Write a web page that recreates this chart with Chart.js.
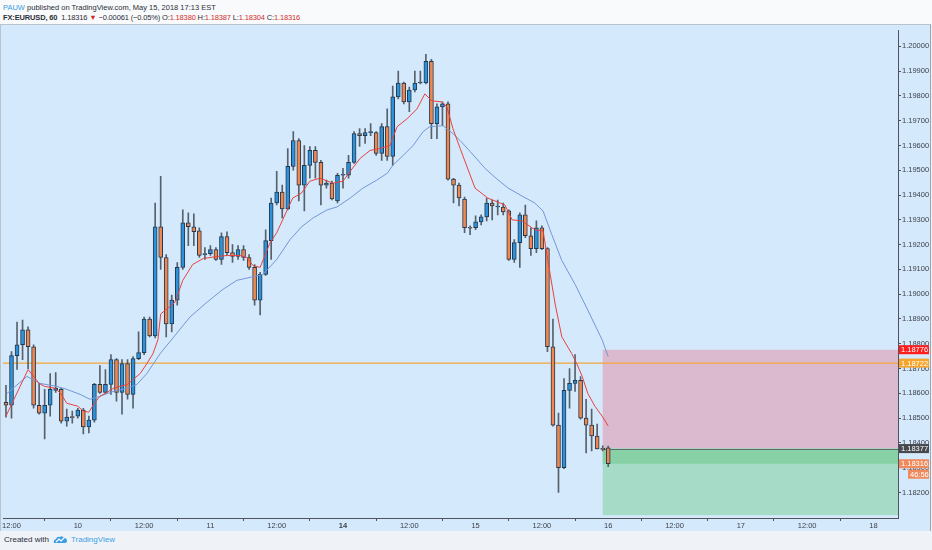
<!DOCTYPE html>
<html><head><meta charset="utf-8">
<script src="https://cdn.jsdelivr.net/npm/chart.js@4.4.0/dist/chart.umd.min.js"></script>
<style>
html,body{margin:0;padding:0;width:932px;height:550px;background:#eff3f7;overflow:hidden;font-family:"Liberation Sans",Arial,sans-serif;}
#hdr{position:absolute;left:0;top:0;width:932px;height:24px;background:#f9fafb;}
.ln{position:absolute;left:3px;white-space:nowrap;font-size:7.5px;color:#2a2e39;}
#l1{top:2.5px}
#l2{top:13px;letter-spacing:-0.15px}
.red{color:#d12d2d}
#panel{position:absolute;left:0;top:24px;width:931px;height:507px;background:#d5e9fc;border-top:1px solid #b9c3cd;border-right:1px solid #9aa4ae;border-left:1px solid #b9c3cd;box-sizing:border-box;}
#cv{position:absolute;left:-1px;top:0;}
#foot{position:absolute;left:4px;top:535px;font-size:8px;color:#2a2e39;white-space:nowrap;}
#foot svg{vertical-align:middle;margin:0 3px 0 4px}
#foot .tv{color:#3a9ee5}
</style></head>
<body>
<div id="hdr">
<div class="ln" id="l1"><span style="color:#3a9ee5">PAUW</span> published on TradingView.com, May 15, 2018 17:13 EST</div>
<div class="ln" id="l2"><span style="font-weight:bold">FX:EURUSD, 60</span>&nbsp; 1.18316 <span class="red">▼</span> −0.00061 (−0.05%) O:<span class="red">1.18380</span> H:<span class="red">1.18387</span> L:<span class="red">1.18304</span> C:<span class="red">1.18316</span></div>
</div>
<div id="panel"><canvas id="cv" width="932" height="506"></canvas></div>
<div id="foot">Created with<svg width="15" height="10" viewBox="0 0 15 10"><path d="M1 8 Q0 5 3 4 Q4 1 7 2 Q9 0 11 3 Q14 3 14 6 Q14 8 12 8 Z" fill="#3a9ee5"/><path d="M3 7 L6 4 L8 6 L11 3" stroke="#fff" stroke-width="1.2" fill="none"/></svg><span class="tv">TradingView</span></div>
<script>
// ---- candle data (hourly, index 0 = 9 May 11:00) ----
const opens = [1.18564,1.18552,1.18752,1.18796,1.18856,1.18788,1.18552,1.18520,1.18552,1.18612,
1.18616,1.18488,1.18504,1.18508,1.18532,1.18464,1.18492,1.18636,1.18604,1.18636,
1.18736,1.18604,1.18720,1.18596,1.18740,1.18764,1.18900,1.18832,1.19272,1.19148,
1.18880,1.18976,1.19108,1.19288,1.19272,1.19256,1.19160,1.19164,1.19180,1.19140,
1.19232,1.19168,1.19152,1.19180,1.19148,1.19108,1.18976,1.19080,1.19216,1.19368,
1.19412,1.19344,1.19516,1.19620,1.19440,1.19520,1.19580,1.19532,1.19440,1.19448,
1.19376,1.19480,1.19480,1.19532,1.19648,1.19640,1.19652,1.19652,1.19568,1.19676,
1.19556,1.19796,1.19852,1.19776,1.19824,1.19852,1.19852,1.19940,1.19688,1.19756,
1.19768,1.19464,1.19440,1.19384,1.19268,1.19268,1.19292,1.19312,1.19368,1.19352,
1.19352,1.19336,1.19140,1.19208,1.19320,1.19236,1.19184,1.19268,1.19184,1.18788,
1.18472,1.18300,1.18612,1.18640,1.18652,1.18500,1.18472,1.18428,1.18376,1.18380];
const highs = [1.18632,1.18768,1.18888,1.18896,1.18868,1.18796,1.18640,1.18616,1.18680,1.18684,
1.18620,1.18536,1.18528,1.18540,1.18540,1.18508,1.18640,1.18712,1.18696,1.18756,
1.18740,1.18736,1.18736,1.18748,1.18848,1.18908,1.18908,1.19368,1.19476,1.19160,
1.18996,1.19128,1.19340,1.19328,1.19324,1.19268,1.19188,1.19196,1.19188,1.19248,
1.19252,1.19200,1.19196,1.19196,1.19160,1.19120,1.19088,1.19260,1.19388,1.19496,
1.19440,1.19588,1.19656,1.19628,1.19600,1.19596,1.19596,1.19540,1.19460,1.19456,
1.19488,1.19508,1.19560,1.19656,1.19668,1.19668,1.19688,1.19656,1.19688,1.19748,
1.19840,1.19900,1.19856,1.19836,1.19900,1.19900,1.19968,1.19948,1.19768,1.19776,
1.19776,1.19468,1.19448,1.19392,1.19276,1.19316,1.19320,1.19388,1.19380,1.19380,
1.19368,1.19340,1.19220,1.19328,1.19360,1.19268,1.19296,1.19276,1.19188,1.18900,
1.18520,1.18660,1.18700,1.18756,1.18668,1.18576,1.18536,1.18476,1.18388,1.18387];
const lows = [1.18504,1.18500,1.18696,1.18736,1.18700,1.18540,1.18516,1.18416,1.18508,1.18604,
1.18480,1.18468,1.18480,1.18500,1.18436,1.18440,1.18484,1.18600,1.18600,1.18596,
1.18568,1.18516,1.18576,1.18540,1.18736,1.18756,1.18828,1.18824,1.19100,1.18828,
1.18848,1.18956,1.19100,1.19196,1.19196,1.19148,1.19140,1.19156,1.19136,1.19120,
1.19156,1.19128,1.19140,1.19136,1.19100,1.18956,1.18916,1.19076,1.19140,1.19360,
1.19308,1.19340,1.19500,1.19376,1.19336,1.19468,1.19468,1.19360,1.19428,1.19380,
1.19368,1.19428,1.19468,1.19528,1.19596,1.19608,1.19640,1.19560,1.19540,1.19540,
1.19520,1.19788,1.19768,1.19736,1.19816,1.19848,1.19848,1.19628,1.19628,1.19680,
1.19460,1.19368,1.19356,1.19248,1.19240,1.19260,1.19280,1.19296,1.19300,1.19320,
1.19320,1.19136,1.19128,1.19108,1.19228,1.19156,1.19168,1.19180,1.18768,1.18468,
1.18200,1.18296,1.18540,1.18608,1.18496,1.18360,1.18368,1.18376,1.18368,1.18304];
const closes = [1.18552,1.18752,1.18796,1.18856,1.18788,1.18552,1.18520,1.18552,1.18616,1.18620,
1.18488,1.18504,1.18502,1.18532,1.18464,1.18492,1.18636,1.18604,1.18636,1.18736,
1.18604,1.18720,1.18596,1.18740,1.18764,1.18900,1.18832,1.19272,1.19148,1.18880,
1.18976,1.19108,1.19288,1.19272,1.19252,1.19156,1.19164,1.19180,1.19140,1.19232,
1.19168,1.19152,1.19180,1.19148,1.19108,1.18976,1.19080,1.19216,1.19368,1.19412,
1.19344,1.19516,1.19620,1.19440,1.19520,1.19580,1.19532,1.19440,1.19448,1.19384,
1.19480,1.19484,1.19532,1.19648,1.19640,1.19652,1.19652,1.19568,1.19676,1.19556,
1.19796,1.19852,1.19776,1.19824,1.19852,1.19856,1.19940,1.19688,1.19756,1.19768,
1.19464,1.19440,1.19388,1.19268,1.19266,1.19292,1.19312,1.19368,1.19356,1.19352,
1.19332,1.19140,1.19208,1.19320,1.19236,1.19184,1.19268,1.19184,1.18788,1.18472,
1.18300,1.18612,1.18640,1.18652,1.18500,1.18472,1.18428,1.18376,1.18374,1.18316];

// ---- moving averages (index, price) ----
const redIdx = [0,4,5,6,7,9,10,11,13,14,15,16,17,18.3,19.4,20.6,22,23,24.3,25.5,26.6,27.5,28,30.6,32,33.8,35.7,38.2,40,42.4,43.6,44.7,46,47.8,49,50.9,51.9,53.5,55,56.8,59.2,61,62.3,64.1,65.9,67.7,69.5,70.8,72.6,74.4,75.8,77.1,78.9,79.8,80.9,82.2,84.9,87.2,90.3,91.6,93.4,95.7,97.2,98.5,99.4,100.6,102.4,103.3,104.3,105.3,106.6,107.9,109];
const redVal = [1.18508,1.18696,1.18668,1.18640,1.18628,1.18620,1.18596,1.18560,1.18548,1.18528,1.18524,1.18560,1.18588,1.18604,1.18620,1.18628,1.18636,1.18656,1.18680,1.18720,1.18760,1.18816,1.18920,1.18968,1.19056,1.19120,1.19144,1.19152,1.19156,1.19156,1.19148,1.19116,1.19108,1.19208,1.19248,1.19340,1.19388,1.19408,1.19456,1.19468,1.19448,1.19456,1.19496,1.19548,1.19580,1.19588,1.19600,1.19676,1.19708,1.19748,1.19808,1.19780,1.19776,1.19756,1.19668,1.19588,1.19428,1.19388,1.19360,1.19300,1.19296,1.19260,1.19256,1.19080,1.18960,1.18828,1.18760,1.18720,1.18668,1.18600,1.18548,1.18508,1.18468];
const blueIdx = [0.2,3.8,6.2,9.2,11,13.4,15.2,17,19.4,21.9,23.7,25.5,27.9,33.3,36.4,39.3,41.8,44.2,46.5,49,51.4,53.5,55.6,58.1,59.9,62.3,64.6,67.1,69,70,71.9,73.7,75.5,76.7,79.1,80.9,82.2,84,86.7,88.9,90.9,93.4,95.7,97.2,98.8,100.6,103,105.3,107.9,109];
const blueVal = [1.18600,1.18668,1.18640,1.18628,1.18616,1.18596,1.18576,1.18588,1.18608,1.18620,1.18636,1.18680,1.18760,1.18908,1.18968,1.19020,1.19056,1.19068,1.19080,1.19140,1.19220,1.19272,1.19308,1.19340,1.19352,1.19388,1.19428,1.19460,1.19488,1.19520,1.19560,1.19600,1.19656,1.19676,1.19680,1.19648,1.19620,1.19576,1.19508,1.19464,1.19428,1.19396,1.19368,1.19336,1.19240,1.19136,1.19040,1.18936,1.18816,1.18748];

// ---- axes ----
const xTickIdx = [1,13,25,37,49,61,73,85,97,109,121,133,145,157];
const xTickLabels = ['12:00','10','12:00','11','12:00','14','12:00','15','12:00','16','12:00','17','12:00','18'];
const xBold = ['14'];
const yTickValues = [1.182,1.183,1.184,1.185,1.186,1.187,1.188,1.189,1.190,1.191,1.192,1.193,1.194,1.195,1.196,1.197,1.198,1.199,1.200];
const xMin = -0.54, xMax = 161.45, yMin = 1.18097, yMax = 1.20064;

// ---- drawings ----
const hLineLevel = 1.18722;
const stopLevel = 1.18776, entryLevel = 1.18377, targetLevel = 1.18108, lastPrice = 1.18316;
const boxStartIdx = 108;
const markerValues = [1.18776, 1.18722, 1.18377, 1.18316];
const markerTexts = ['1.18776','1.18722','1.18377','1.18316'];
const markerColors = ['#ff1e1e','#f7a42a','#45484d','#f08a5c'];
const countdownText = '46:56';

const UP = '#2e92db', DOWN = '#f0874f', EDGE = '#24384c', WICK = '#56616c';
const idx = opens.map((_, i) => i);
const wickData = idx.map(i => ({x: i, y: [lows[i], highs[i]]}));
const bodyData = idx.map(i => ({x: i, y: [opens[i], closes[i]]}));
const bodyColors = idx.map(i => closes[i] >= opens[i] ? UP : DOWN);

const overlay = {
  id: 'overlay',
  beforeDatasetsDraw(chart) {
    const {ctx, chartArea: a, scales: {x, y}} = chart;
    const x0 = x.getPixelForValue(boxStartIdx), x1 = a.right;
    const yS = y.getPixelForValue(stopLevel), yE = y.getPixelForValue(entryLevel);
    const yT = y.getPixelForValue(targetLevel), yL = y.getPixelForValue(lastPrice);
    ctx.save();
    ctx.fillStyle = '#dbbacf'; ctx.fillRect(x0, yS, x1 - x0, yE - yS);
    ctx.fillStyle = '#a6dcc7'; ctx.fillRect(x0, yE, x1 - x0, yT - yE);
    ctx.fillStyle = '#88d0a6'; ctx.fillRect(x0, yE, x1 - x0, yL - yE);
    ctx.strokeStyle = '#5f6f66'; ctx.lineWidth = 1;
    ctx.beginPath(); ctx.moveTo(x0, Math.round(yE) + 0.5); ctx.lineTo(x1, Math.round(yE) + 0.5); ctx.stroke();
    const yh = y.getPixelForValue(hLineLevel);
    ctx.strokeStyle = '#f5a53c'; ctx.lineWidth = 1.4;
    ctx.beginPath(); ctx.moveTo(a.left, yh); ctx.lineTo(a.right, yh); ctx.stroke();
    ctx.restore();
  },
  afterDraw(chart) {
    const {ctx, chartArea: a, scales: {y}} = chart;
    ctx.save();
    ctx.font = '7.5px "Liberation Sans", Arial, sans-serif';
    ctx.textBaseline = 'middle';
    markerValues.forEach((v, k) => {
      const py = y.getPixelForValue(v);
      ctx.fillStyle = markerColors[k];
      ctx.fillRect(a.right + 1, py - 4.5, 30, 9);
      ctx.fillStyle = '#ffffff';
      ctx.textAlign = 'left';
      ctx.fillText(markerTexts[k], a.right + 3, py + 0.5);
    });
    const pl = y.getPixelForValue(lastPrice) + 10.5;
    ctx.fillStyle = markerColors[3];
    ctx.fillRect(a.right + 10, pl - 4.5, 21, 9);
    ctx.fillStyle = '#ffffff';
    ctx.fillText(countdownText, a.right + 12, pl + 0.5);
    ctx.restore();
  }
};

new Chart(document.getElementById('cv'), {
  data: {
    datasets: [
      {type: 'line', data: redIdx.map((v, i) => ({x: v, y: redVal[i]})), borderColor: '#e8413c', borderWidth: 1, pointRadius: 0, tension: 0, order: 0},
      {type: 'line', data: blueIdx.map((v, i) => ({x: v, y: blueVal[i]})), borderColor: '#7396d6', borderWidth: 1, pointRadius: 0, tension: 0, order: 1},
      {type: 'bar', data: bodyData, backgroundColor: bodyColors, borderColor: EDGE, borderWidth: 1, borderSkipped: false, barThickness: 4, minBarLength: 1, grouped: false, order: 2},
      {type: 'bar', data: wickData, backgroundColor: WICK, borderWidth: 0, barThickness: 1, grouped: false, order: 3}
    ]
  },
  options: {
    animation: false, responsive: false, maintainAspectRatio: false,
    layout: {padding: {left: 3, right: 0, top: 0, bottom: 0}},
    plugins: {legend: {display: false}, tooltip: {enabled: false}},
    scales: {
      x: {
        type: 'linear', min: xMin, max: xMax, offset: false,
        grid: {drawOnChartArea: false, drawTicks: true, tickLength: 3, color: '#50535e'},
        border: {display: true, color: '#50535e'},
        ticks: {
          autoSkip: false, maxRotation: 0, padding: 0, color: '#3b3f48',
          font: ctx => ({size: 7.5, family: '"Liberation Sans", Arial, sans-serif', weight: xBold.includes(xTickLabels[xTickIdx.indexOf(ctx.tick && ctx.tick.value)]) ? 'bold' : 'normal'}),
          callback: v => { const k = xTickIdx.indexOf(v); return k >= 0 ? xTickLabels[k] : ''; }
        },
        afterBuildTicks: s => { s.ticks = xTickIdx.map(v => ({value: v})); },
        afterFit: s => { s.height = 13; }
      },
      y: {
        type: 'linear', position: 'right', min: yMin, max: yMax,
        grid: {drawOnChartArea: false, drawTicks: true, tickLength: 3, color: '#50535e'},
        border: {display: true, color: '#50535e'},
        ticks: {padding: 1, color: '#3b3f48', font: {size: 7.5, family: '"Liberation Sans", Arial, sans-serif'}, callback: v => Number(v).toFixed(5)},
        afterBuildTicks: s => { s.ticks = yTickValues.map(v => ({value: v})); },
        afterFit: s => { s.width = 34; }
      }
    }
  },
  plugins: [overlay]
});
</script>
</body></html>
